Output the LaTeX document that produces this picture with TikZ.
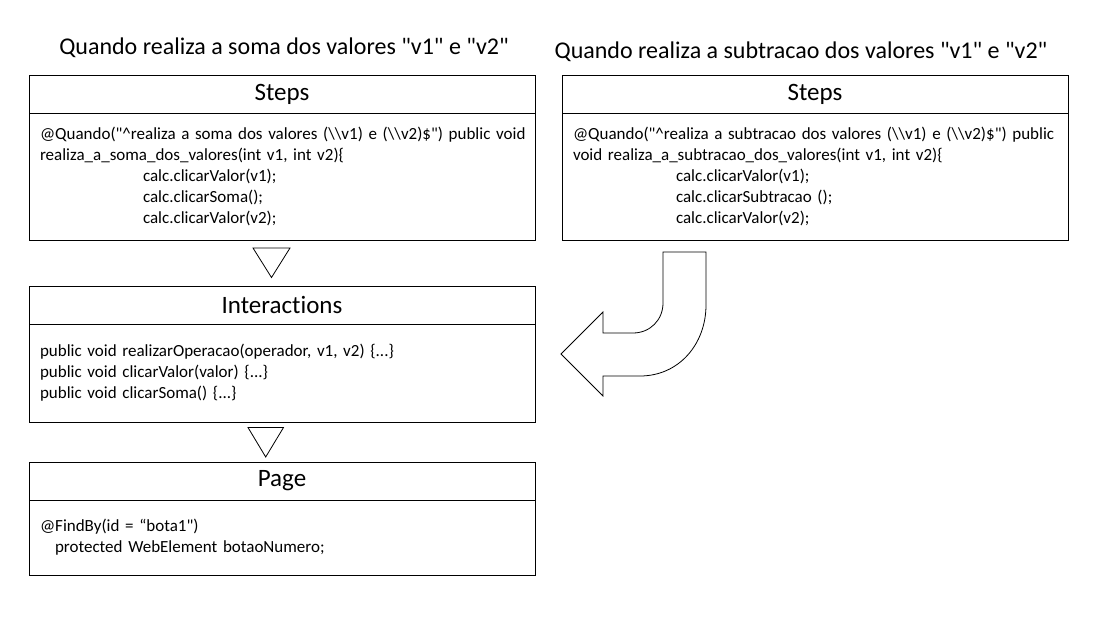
\documentclass[tikz,border=0pt]{standalone}
\usepackage{fontspec}
\setmainfont{Carlito}[Ligatures={TeXOff,CommonOff}, WordSpace={1,0,0}]
\usetikzlibrary{positioning, calc}

\newcommand{\codeindent}{\hspace*{103pt}}
\newcommand{\bsl}{\textbackslash\textbackslash}

\begin{document}
\begin{tikzpicture}[
		x=1pt, y=-1pt,
		font=\fontsize{17}{21}\selectfont,
		title/.style={font=\fontsize{24}{28}\selectfont},
		head/.style={rectangle, draw=black, line width=1pt, outer sep=0pt, inner sep=0pt, minimum width=506pt, minimum height=38pt, font=\fontsize{25}{28}\selectfont},
		body/.style={rectangle, draw=black, line width=1pt, outer sep=0pt, inner xsep=11pt, inner ysep=0pt, text width=484pt, align=left},
		tri/.style={draw=black, line width=0.8pt},
		bentarrow/.style={draw=black, line width=0.8pt, fill=white}
		]
		\useasboundingbox (0,0) rectangle (1110,618);
		
		% 1. Steps (soma)
		\node[title] (titleA) at (284,48) {Quando realiza a soma dos valores "v1" e "v2"};
		\node[head] (headA) at (282,94) {Steps};
		\node[body, below=0pt of headA, minimum height=127pt] (bodyA) {
			\mbox{@Quando("\textasciicircum realiza a soma dos valores (\bsl v1) e (\bsl v2)\$") public void}\\
			realiza\_a\_soma\_dos\_valores(int v1, int v2)\{\\
			\codeindent calc.clicarValor(v1);\\
			\codeindent calc.clicarSoma();\\
			\codeindent calc.clicarValor(v2);
		};
		
		% 2. Interactions
		\node[head, below=46pt of bodyA] (headB) {Interactions};
		\node[body, below=0pt of headB, minimum height=98pt] (bodyB) {
			public void realizarOperacao(operador, v1, v2) \{...\}\\
			public void clicarValor(valor) \{...\}\\
			public void clicarSoma() \{...\}
		};
		
		% 3. Page
		\node[head, below=40pt of bodyB] (headC) {Page};
		\node[body, below=0pt of headC, minimum height=75pt] (bodyC) {
			@FindBy(id = “bota1")\\
			\hspace*{15pt}protected WebElement botaoNumero;
		};
		
		% 4. Steps (subtracao)
		\node[title] (titleR) at (801,52) {Quando realiza a subtracao dos valores "v1" e "v2"};
		\node[head] (headR) at (815,94) {Steps};
		\node[body, below=0pt of headR, minimum height=127pt] (bodyR) {
			\mbox{@Quando("\textasciicircum realiza a subtracao dos valores (\bsl v1) e (\bsl v2)\$") public}\\
			void realiza\_a\_subtracao\_dos\_valores(int v1, int v2)\{\\
			\codeindent calc.clicarValor(v1);\\
			\codeindent calc.clicarSubtracao ();\\
			\codeindent calc.clicarValor(v2);
		};
		
		% Triangles
		\draw[tri] ($(bodyA.south)+(-29,8)$) -- ++(37,0) -- ($(bodyA.south)+(-10.5,37.5)$) -- cycle;
		\draw[tri] ($(bodyB.south)+(-34,5.5)$) -- ++(35.5,0) -- ($(bodyB.south)+(-16.3,35)$) -- cycle;
		
		% Bent arrow
		\draw[bentarrow] (663,252) -- (706,252) -- (706,305)
			.. controls (706,344) and (679,376) .. (640,376)
			-- (603,376) -- (603,396) -- (561,354) -- (603,312) -- (603,333) -- (633,333)
			.. controls (650,333) and (663,320) .. (663,303) -- cycle;
	\end{tikzpicture}
\end{document}
